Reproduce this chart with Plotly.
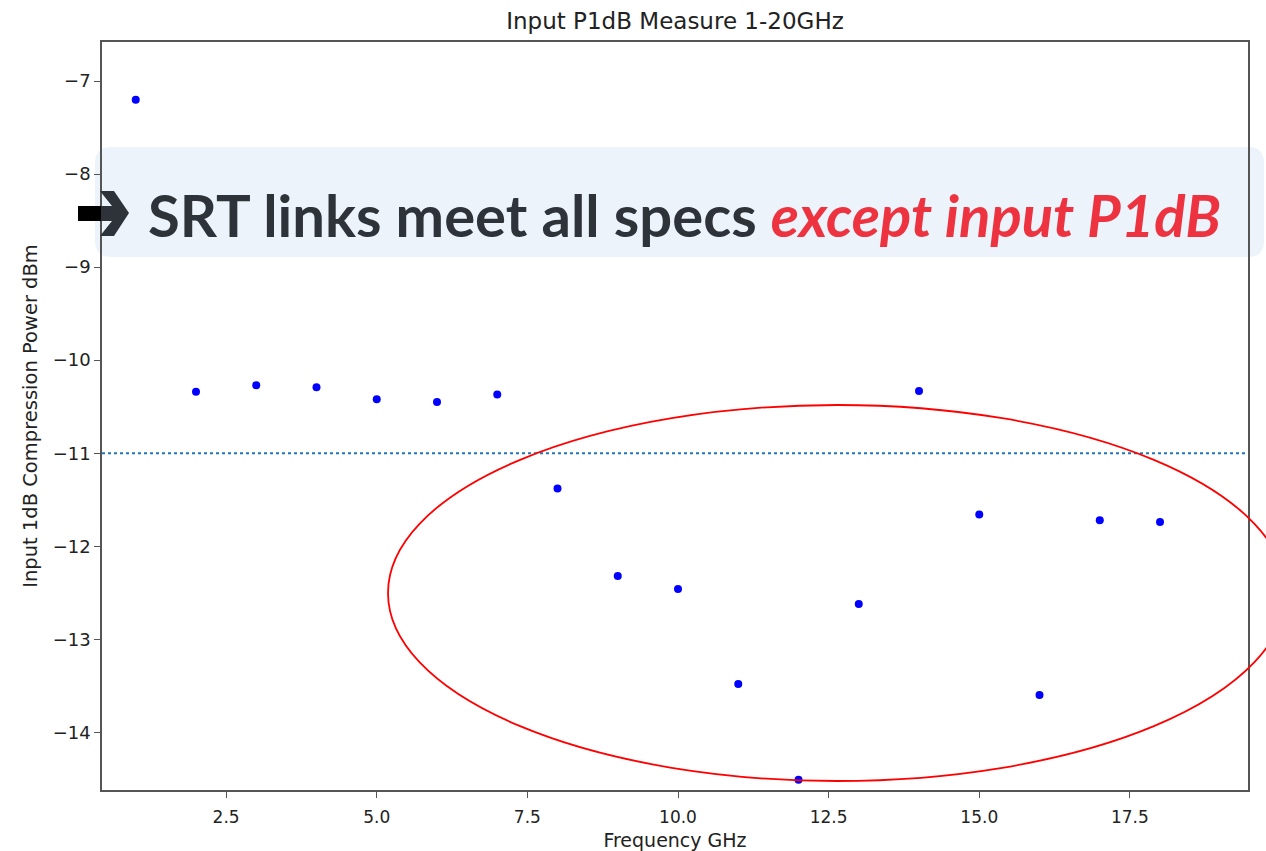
import plotly.graph_objects as go

# ---- data ----
freq_ghz = [1, 2, 3, 4, 5, 6, 7, 8, 9, 10, 11, 12, 13, 14, 15, 16, 17, 18]
p1db_dbm = [-7.20, -10.34, -10.27, -10.29, -10.42, -10.45, -10.37, -11.38, -12.32,
            -12.46, -13.48, -14.51, -12.62, -10.33, -11.66, -13.60, -11.72, -11.74]
spec_limit = -11
x_ticks = [2.5, 5.0, 7.5, 10.0, 12.5, 15.0, 17.5]
y_ticks = [-7, -8, -9, -10, -11, -12, -13, -14]

W, H = 1266, 851
L, R, T, B = 102, 1248, 42, 790


def px(x):
    return (x - L) / (R - L)


def py(y):
    return (B - y) / (B - T)


fig = go.Figure()
fig.add_trace(go.Scatter(x=freq_ghz, y=p1db_dbm, mode="markers",
                         marker=dict(color="#0000ff", size=8), showlegend=False))
fig.add_trace(go.Scatter(x=[0.44, 19.46], y=[spec_limit, spec_limit], mode="lines",
                         line=dict(color="#1f77b4", width=2, dash="dot"), showlegend=False))


def rounded_rect(x0, y0, x1, y1, r):
    def P(x, y):
        return f"{px(x):.5f},{py(y):.5f}"
    d = (f"M {P(x0 + r, y0)} L {P(x1 - r, y0)} Q {P(x1, y0)} {P(x1, y0 + r)} "
         f"L {P(x1, y1 - r)} Q {P(x1, y1)} {P(x1 - r, y1)} L {P(x0 + r, y1)} "
         f"Q {P(x0, y1)} {P(x0, y1 - r)} L {P(x0, y0 + r)} Q {P(x0, y0)} {P(x0 + r, y0)} Z")
    return d


shapes = [
    dict(type="path", xref="paper", yref="paper", path=rounded_rect(95, 147, 1264, 257, 16),
         fillcolor="rgb(236,243,250)", line=dict(width=0), layer="below"),
    dict(type="circle", xref="paper", yref="paper", x0=px(388), x1=px(1286), y0=py(781), y1=py(405),
         line=dict(color="#ff0000", width=1.8), fillcolor="rgba(0,0,0,0)"),
]


def poly(points):
    return "M " + " L ".join(f"{px(x):.5f},{py(y):.5f}" for x, y in points) + " Z"


shapes.append(dict(type="path", xref="paper", yref="paper",
                   path=poly([(100, 206), (112, 206), (100, 191), (114, 191), (129, 213),
                              (114, 236), (100, 236), (112, 221), (100, 221)]),
                   fillcolor="#2d3339", line=dict(width=0)))
shapes.append(dict(type="rect", xref="paper", yref="paper", x0=px(78), x1=px(101),
                   y0=py(221), y1=py(206), fillcolor="#000000", line=dict(width=0)))

annotations = [
    dict(xref="paper", yref="paper", x=px(146), y=py(214), xanchor="left", yanchor="middle",
         showarrow=False,
         text="<b>SRT links meet all specs </b><b><i><span style='color:#ee3340'>except input P1dB</span></i></b>",
         font=dict(family="Lato", size=58, color="#2d3339")),
]

fig.update_layout(
    width=W, height=H, autosize=False,
    margin=dict(l=L, r=W - R, t=T, b=H - B, autoexpand=False),
    paper_bgcolor="white", plot_bgcolor="rgba(0,0,0,0)",
    title=dict(text="Input P1dB Measure 1-20GHz", x=px(675), xref="paper", xanchor="center",
               y=1 - 21 / H, yref="container", yanchor="middle",
               font=dict(family="DejaVu Sans", size=23, color="#222")),
    shapes=shapes, annotations=annotations,
    font=dict(family="DejaVu Sans", size=18, color="#222"),
)
fig.update_xaxes(range=[0.44, 19.46], tickvals=x_ticks, tickformat=".1f", automargin=False,
                 showgrid=False, zeroline=False, showline=True, mirror=True,
                 linecolor="#555", linewidth=1.5, ticks="outside", ticklen=6, tickwidth=1.3,
                 tickcolor="#555", tickfont=dict(size=17), ticklabelstandoff=5,
                 title=dict(text="Frequency GHz", standoff=10, font=dict(size=19)))
fig.update_yaxes(range=[-14.62, -6.58], tickvals=y_ticks, automargin=False,
                 showgrid=False, zeroline=False, showline=True, mirror=True,
                 linecolor="#555", linewidth=1.5, ticks="outside", ticklen=6, tickwidth=1.3,
                 tickcolor="#555", tickfont=dict(size=18),
                 title=dict(text="Input 1dB Compression Power dBm", standoff=10, font=dict(size=19.5)))

fig.write_html("out.html")
